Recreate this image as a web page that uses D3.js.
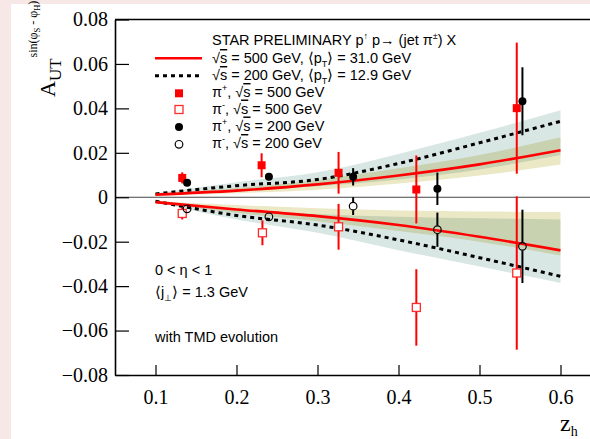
<!DOCTYPE html>
<html>
<head>
<meta charset="utf-8">
<script src="https://cdn.jsdelivr.net/npm/d3@7"></script>
<style>
  body { margin: 0; background: #f7e7e7; }
  svg { display: block; }
  .sans { font-family: "Liberation Sans", Arial, sans-serif; }
  .serif { font-family: "Liberation Serif", "Times New Roman", serif; }
</style>
</head>
<body>
<svg width="590" height="439"></svg>
<script>
// theory curves (z_h grid) and uncertainty bands
var zGrid = [0.1, 0.2, 0.3, 0.4, 0.5, 0.6];
var curve500Pos = [0.0012, 0.0030, 0.0058, 0.0098, 0.0148, 0.0212];
var curve200Pos = [0.0015, 0.0052, 0.0080, 0.0152, 0.0245, 0.0342];
var curve500Neg = [-0.0022, -0.0055, -0.0085, -0.0125, -0.0178, -0.0239];
var curve200Neg = [-0.0018, -0.0082, -0.0125, -0.0192, -0.0272, -0.0356];
var band500PosLo = [0.0008, 0.0018, 0.0034, 0.0062, 0.0098, 0.0147];
var band500PosHi = [0.0016, 0.0042, 0.0078, 0.0130, 0.0190, 0.0270];
var band200PosLo = [0.0012, 0.0032, 0.0050, 0.0080, 0.0125, 0.0190];
var band200PosHi = [0.0018, 0.0068, 0.0112, 0.0195, 0.0290, 0.0392];
var band500NegHi = [-0.0018, -0.0035, -0.0050, -0.0060, -0.0064, -0.0066];
var band500NegLo = [-0.0026, -0.0070, -0.0108, -0.0152, -0.0200, -0.0262];
var band200NegHi = [-0.0014, -0.0055, -0.0075, -0.0088, -0.0095, -0.0100];
var band200NegLo = [-0.0022, -0.0100, -0.0160, -0.0238, -0.0312, -0.0386];

// data points
var zPip500 = [0.133, 0.231, 0.326, 0.422, 0.546];
var aPip500 = [0.0087, 0.0144, 0.0110, 0.0035, 0.0401];
var ePip500 = [0.0025, 0.0054, 0.0094, 0.0153, 0.0295];
var zPim500 = [0.133, 0.232, 0.326, 0.422, 0.546];
var aPim500 = [-0.0073, -0.0160, -0.0133, -0.0496, -0.0341];
var ePim500 = [0.0027, 0.0056, 0.0103, 0.0172, 0.0345];
var zPip200 = [0.139, 0.240, 0.344, 0.448, 0.553];
var aPip200 = [0.0065, 0.0092, 0.0092, 0.0038, 0.0432];
var ePip200 = [0.0012, 0.0012, 0.0039, 0.0073, 0.0153];
var zPim200 = [0.139, 0.240, 0.344, 0.448, 0.553];
var aPim200 = [-0.0052, -0.0088, -0.0040, -0.0146, -0.0221];
var ePim200 = [0.0010, 0.0012, 0.0040, 0.0077, 0.0165];

var xTicks = [0.1, 0.2, 0.3, 0.4, 0.5, 0.6];
var yTicks = [-0.08, -0.06, -0.04, -0.02, 0, 0.02, 0.04, 0.06, 0.08];

var svg = d3.select("svg");
var x = d3.scaleLinear().domain([0.05, 0.65]).range([115, 601]);
var y = d3.scaleLinear().domain([-0.08, 0.08]).range([375, 19.5]);

// white slide area
svg.append("rect").attr("x", 11).attr("y", 4).attr("width", 590).attr("height", 439).attr("fill", "#fff");

function zip(a, b) { return a.map((v, i) => [v, b[i]]); }
function bandData(lo, hi) { return zGrid.map((z, i) => ({z: z, lo: lo[i], hi: hi[i]})); }

var area = d3.area().x(d => x(d.z)).y0(d => y(d.lo)).y1(d => y(d.hi)).curve(d3.curveMonotoneX);
var line = d3.line().x(d => x(d[0])).y(d => y(d[1])).curve(d3.curveMonotoneX);

var bands = svg.append("g").style("isolation", "isolate");
[[band200PosLo, band200PosHi], [band200NegLo, band200NegHi]].forEach(b => {
  bands.append("path").attr("d", area(bandData(b[0], b[1]))).attr("fill", "#d9e7e4");
});
[[band500PosLo, band500PosHi], [band500NegLo, band500NegHi]].forEach(b => {
  bands.append("path").attr("d", area(bandData(b[0], b[1]))).attr("fill", "#ebe8c6")
    .style("mix-blend-mode", "multiply");
});

// zero line
svg.append("line").attr("x1", 115).attr("x2", 590).attr("y1", y(0)).attr("y2", y(0))
  .attr("stroke", "#444").attr("stroke-width", 1);

// curves
[curve200Pos, curve200Neg].forEach(c => {
  svg.append("path").attr("d", line(zip(zGrid, c))).attr("fill", "none")
    .attr("stroke", "#000").attr("stroke-width", 3).attr("stroke-dasharray", "4,4");
});
[curve500Pos, curve500Neg].forEach(c => {
  svg.append("path").attr("d", line(zip(zGrid, c))).attr("fill", "none")
    .attr("stroke", "#ff0000").attr("stroke-width", 2.6);
});

// axes
var yAxis = d3.axisLeft(y).tickValues(yTicks).tickSize(-14).tickSizeOuter(0).tickPadding(7)
  .tickFormat(d => d === 0 ? "0" : (d < 0 ? "\u2212" : "") + Math.abs(d).toFixed(2));
var gy = svg.append("g").attr("transform", "translate(115,0)").call(yAxis);
var xAxis = d3.axisBottom(x).tickValues(xTicks).tickSize(-10).tickSizeOuter(0).tickPadding(15)
  .tickFormat(d3.format(".1f"));
var gx = svg.append("g").attr("transform", "translate(0,375)").call(xAxis);
[gx, gy].forEach(g => {
  g.selectAll("text").attr("class", "serif").attr("font-size", 20).attr("fill", "#000");
  g.selectAll("line").attr("stroke", "#000").attr("stroke-width", 1.2);
  g.select(".domain").attr("stroke", "#000").attr("stroke-width", 1.6);
});
svg.append("line").attr("x1", 115).attr("x2", 590).attr("y1", 19.5).attr("y2", 19.5)
  .attr("stroke", "#000").attr("stroke-width", 1.6);

// error bars + markers
function errBars(zs, as, es, color, gap) {
  zs.forEach((z, i) => {
    var cx = x(z), top = y(as[i] + es[i]), bot = y(as[i] - es[i]), cy = y(as[i]);
    if (gap) {
      if (top < cy - gap) svg.append("line").attr("x1", cx).attr("x2", cx).attr("y1", top).attr("y2", cy - gap)
        .attr("stroke", color).attr("stroke-width", 2);
      if (bot > cy + gap) svg.append("line").attr("x1", cx).attr("x2", cx).attr("y1", cy + gap).attr("y2", bot)
        .attr("stroke", color).attr("stroke-width", 2);
    } else {
      svg.append("line").attr("x1", cx).attr("x2", cx).attr("y1", top).attr("y2", bot)
        .attr("stroke", color).attr("stroke-width", 2);
    }
  });
}
errBars(zPip500, aPip500, ePip500, "#ff0000");
errBars(zPim500, aPim500, ePim500, "#ff0000");
errBars(zPip200, aPip200, ePip200, "#000");
errBars(zPim200, aPim200, ePim200, "#000", 4);

function square(g, cx, cy, filled) {
  g.append("rect").attr("x", cx - 4).attr("y", cy - 4).attr("width", 8).attr("height", 8)
    .attr("fill", filled ? "#ff0000" : "#fff").attr("stroke", filled ? "none" : "#ff2a2a").attr("stroke-width", 1.3);
}
function circle(g, cx, cy, filled) {
  g.append("circle").attr("cx", cx).attr("cy", cy).attr("r", filled ? 4 : 3.8)
    .attr("fill", filled ? "#000" : "none").attr("stroke", "#000").attr("stroke-width", filled ? 0 : 1.2);
}
zPip500.forEach((z, i) => square(svg, x(z), y(aPip500[i]), true));
zPim500.forEach((z, i) => square(svg, x(z), y(aPim500[i]), false));
zPip200.forEach((z, i) => circle(svg, x(z), y(aPip200[i]), true));
zPim200.forEach((z, i) => circle(svg, x(z), y(aPim200[i]), false));

// legend
var leg = svg.append("g").attr("class", "sans").attr("font-size", 14.5).attr("fill", "#000");
leg.append("text").attr("x", 212).attr("y", 45)
  .html('STAR PRELIMINARY p<tspan font-size="9" dy="-6">\u2191</tspan><tspan dy="6"> p\u2192 (jet \u03c0</tspan><tspan font-size="9" dy="-6">\u00b1</tspan><tspan dy="6">) X</tspan>');
function sqrtS(v) { return '\u221a<tspan style="text-decoration:overline">s</tspan> = ' + v + ' GeV'; }
leg.append("text").attr("x", 212).attr("y", 63)
  .html(sqrtS(500) + ', \u27e8p<tspan font-size="9" dy="4">T</tspan><tspan dy="-4">\u27e9 = 31.0 GeV</tspan>');
leg.append("text").attr("x", 212).attr("y", 80)
  .html(sqrtS(200) + ', \u27e8p<tspan font-size="9" dy="4">T</tspan><tspan dy="-4">\u27e9 = 12.9 GeV</tspan>');
var legRows = [["+", 500, 97], ["-", 500, 113.5], ["+", 200, 130.5], ["-", 200, 148]];
legRows.forEach(r => {
  leg.append("text").attr("x", 212).attr("y", r[2])
    .html('\u03c0<tspan font-size="9" dy="-6">' + r[0] + '</tspan><tspan dy="6">, ' + sqrtS(r[1]) + '</tspan>');
});
svg.append("line").attr("x1", 155).attr("x2", 202).attr("y1", 58.3).attr("y2", 58.3)
  .attr("stroke", "#ff0000").attr("stroke-width", 2.6);
svg.append("line").attr("x1", 155).attr("x2", 202).attr("y1", 75.8).attr("y2", 75.8)
  .attr("stroke", "#000").attr("stroke-width", 3).attr("stroke-dasharray", "4,4");
square(svg, 179, 93.3, true);
square(svg, 179, 109.5, false);
circle(svg, 179, 127, true);
circle(svg, 179, 144.3, false);

// annotations
var ann = svg.append("g").attr("class", "sans").attr("font-size", 14.5).attr("fill", "#000");
ann.append("text").attr("x", 155).attr("y", 275).text("0 < \u03b7 < 1");
ann.append("text").attr("x", 155).attr("y", 297)
  .html('\u27e8j<tspan font-size="9" dy="4">\u22a5</tspan><tspan dy="-4">\u27e9 = 1.3 GeV</tspan>');
ann.append("text").attr("x", 155).attr("y", 342).text("with TMD evolution");

// axis titles
svg.append("text").attr("class", "serif").attr("transform", "translate(55,97) rotate(-90)")
  .html('<tspan font-size="22">A</tspan><tspan font-size="17" dy="6">UT</tspan>' +
        '<tspan font-size="12" dy="-24" dx="1">sin(\u03c6</tspan><tspan font-size="8.5" dy="3">S</tspan>' +
        '<tspan font-size="12" dy="-3"> - \u03c6</tspan><tspan font-size="8.5" dy="3">H</tspan>' +
        '<tspan font-size="12" dy="-3">)</tspan>');
svg.append("text").attr("class", "serif").attr("x", 560).attr("y", 431)
  .html('<tspan font-size="24">z</tspan><tspan font-size="14" dy="5">h</tspan>');
</script>
</body>
</html>
